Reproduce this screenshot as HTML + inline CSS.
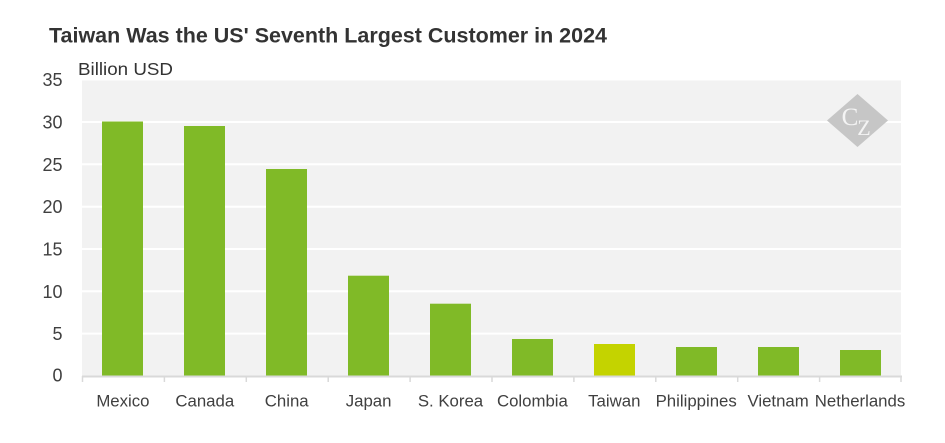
<!DOCTYPE html>
<html>
<head>
<meta charset="utf-8">
<style>
html,body{margin:0;padding:0;background:#fff;}
svg{display:block;}
text{font-family:"Liberation Sans",sans-serif;}
</style>
</head>
<body>
<svg width="945" height="443" viewBox="0 0 945 443" xmlns="http://www.w3.org/2000/svg">
<rect x="0" y="0" width="945" height="443" fill="#ffffff"/>
<text x="49" y="42.7" font-size="21" font-weight="bold" fill="#333333" textLength="558" lengthAdjust="spacingAndGlyphs">Taiwan Was the US' Seventh Largest Customer in 2024</text>
<text x="78" y="75" font-size="17.5" fill="#333333" textLength="95" lengthAdjust="spacingAndGlyphs">Billion USD</text>
<!-- plot bg -->
<rect x="82" y="80.5" width="819" height="295.5" fill="#f2f2f2"/>
<!-- gridlines -->
<g stroke="#ffffff" stroke-width="2">
<line x1="82" x2="901" y1="122" y2="122"/>
<line x1="82" x2="901" y1="164.3" y2="164.3"/>
<line x1="82" x2="901" y1="206.7" y2="206.7"/>
<line x1="82" x2="901" y1="249" y2="249"/>
<line x1="82" x2="901" y1="291.3" y2="291.3"/>
<line x1="82" x2="901" y1="333.6" y2="333.6"/>
</g>
<!-- logo -->
<polygon points="857.5,94 888,120.5 857.5,147 827,120.5" fill="#c6c6c6"/>
<text x="850" y="125" style="font-family:'Liberation Serif',serif;font-size:25px;" fill="#f4f4f4" text-anchor="middle">C</text>
<text x="864" y="135" style="font-family:'Liberation Serif',serif;font-size:22px;" fill="#f4f4f4" text-anchor="middle">Z</text>
<!-- bars -->
<g fill="#80ba27">
<rect x="102" y="121.5" width="41" height="254.5"/>
<rect x="184" y="126" width="41" height="250"/>
<rect x="266" y="169" width="41" height="207"/>
<rect x="348" y="275.7" width="41" height="100.3"/>
<rect x="430" y="303.7" width="41" height="72.3"/>
<rect x="512" y="339" width="41" height="37"/>
<rect x="676" y="347" width="41" height="29"/>
<rect x="758" y="347" width="41" height="29"/>
<rect x="840" y="350" width="41" height="26"/>
</g>
<rect x="594" y="344" width="41" height="32" fill="#c4d300"/>
<!-- axis -->
<line x1="82" x2="902" y1="376.5" y2="376.5" stroke="#d9d9d9" stroke-width="2"/>
<g stroke="#d9d9d9" stroke-width="1.5">
<line x1="82.5" x2="82.5" y1="376" y2="382"/>
<line x1="164.4" x2="164.4" y1="376" y2="382"/>
<line x1="246.3" x2="246.3" y1="376" y2="382"/>
<line x1="328.2" x2="328.2" y1="376" y2="382"/>
<line x1="410.1" x2="410.1" y1="376" y2="382"/>
<line x1="492" x2="492" y1="376" y2="382"/>
<line x1="573.9" x2="573.9" y1="376" y2="382"/>
<line x1="655.8" x2="655.8" y1="376" y2="382"/>
<line x1="737.7" x2="737.7" y1="376" y2="382"/>
<line x1="819.6" x2="819.6" y1="376" y2="382"/>
<line x1="901" x2="901" y1="376" y2="382"/>
</g>
<!-- y labels -->
<g font-size="18" fill="#404040" text-anchor="end">
<text x="62.5" y="86">35</text>
<text x="62.5" y="128.5">30</text>
<text x="62.5" y="170.8">25</text>
<text x="62.5" y="213.2">20</text>
<text x="62.5" y="255.5">15</text>
<text x="62.5" y="297.8">10</text>
<text x="62.5" y="340.1">5</text>
<text x="62.5" y="381.5">0</text>
</g>
<!-- x labels -->
<g font-size="16.8" fill="#404040" text-anchor="middle">
<text x="122.9" y="406.5">Mexico</text>
<text x="204.8" y="406.5">Canada</text>
<text x="286.7" y="406.5">China</text>
<text x="368.6" y="406.5">Japan</text>
<text x="450.5" y="406.5">S. Korea</text>
<text x="532.4" y="406.5">Colombia</text>
<text x="614.3" y="406.5">Taiwan</text>
<text x="696.2" y="406.5">Philippines</text>
<text x="778.1" y="406.5">Vietnam</text>
<text x="860" y="406.5">Netherlands</text>
</g>
</svg>
</body>
</html>
